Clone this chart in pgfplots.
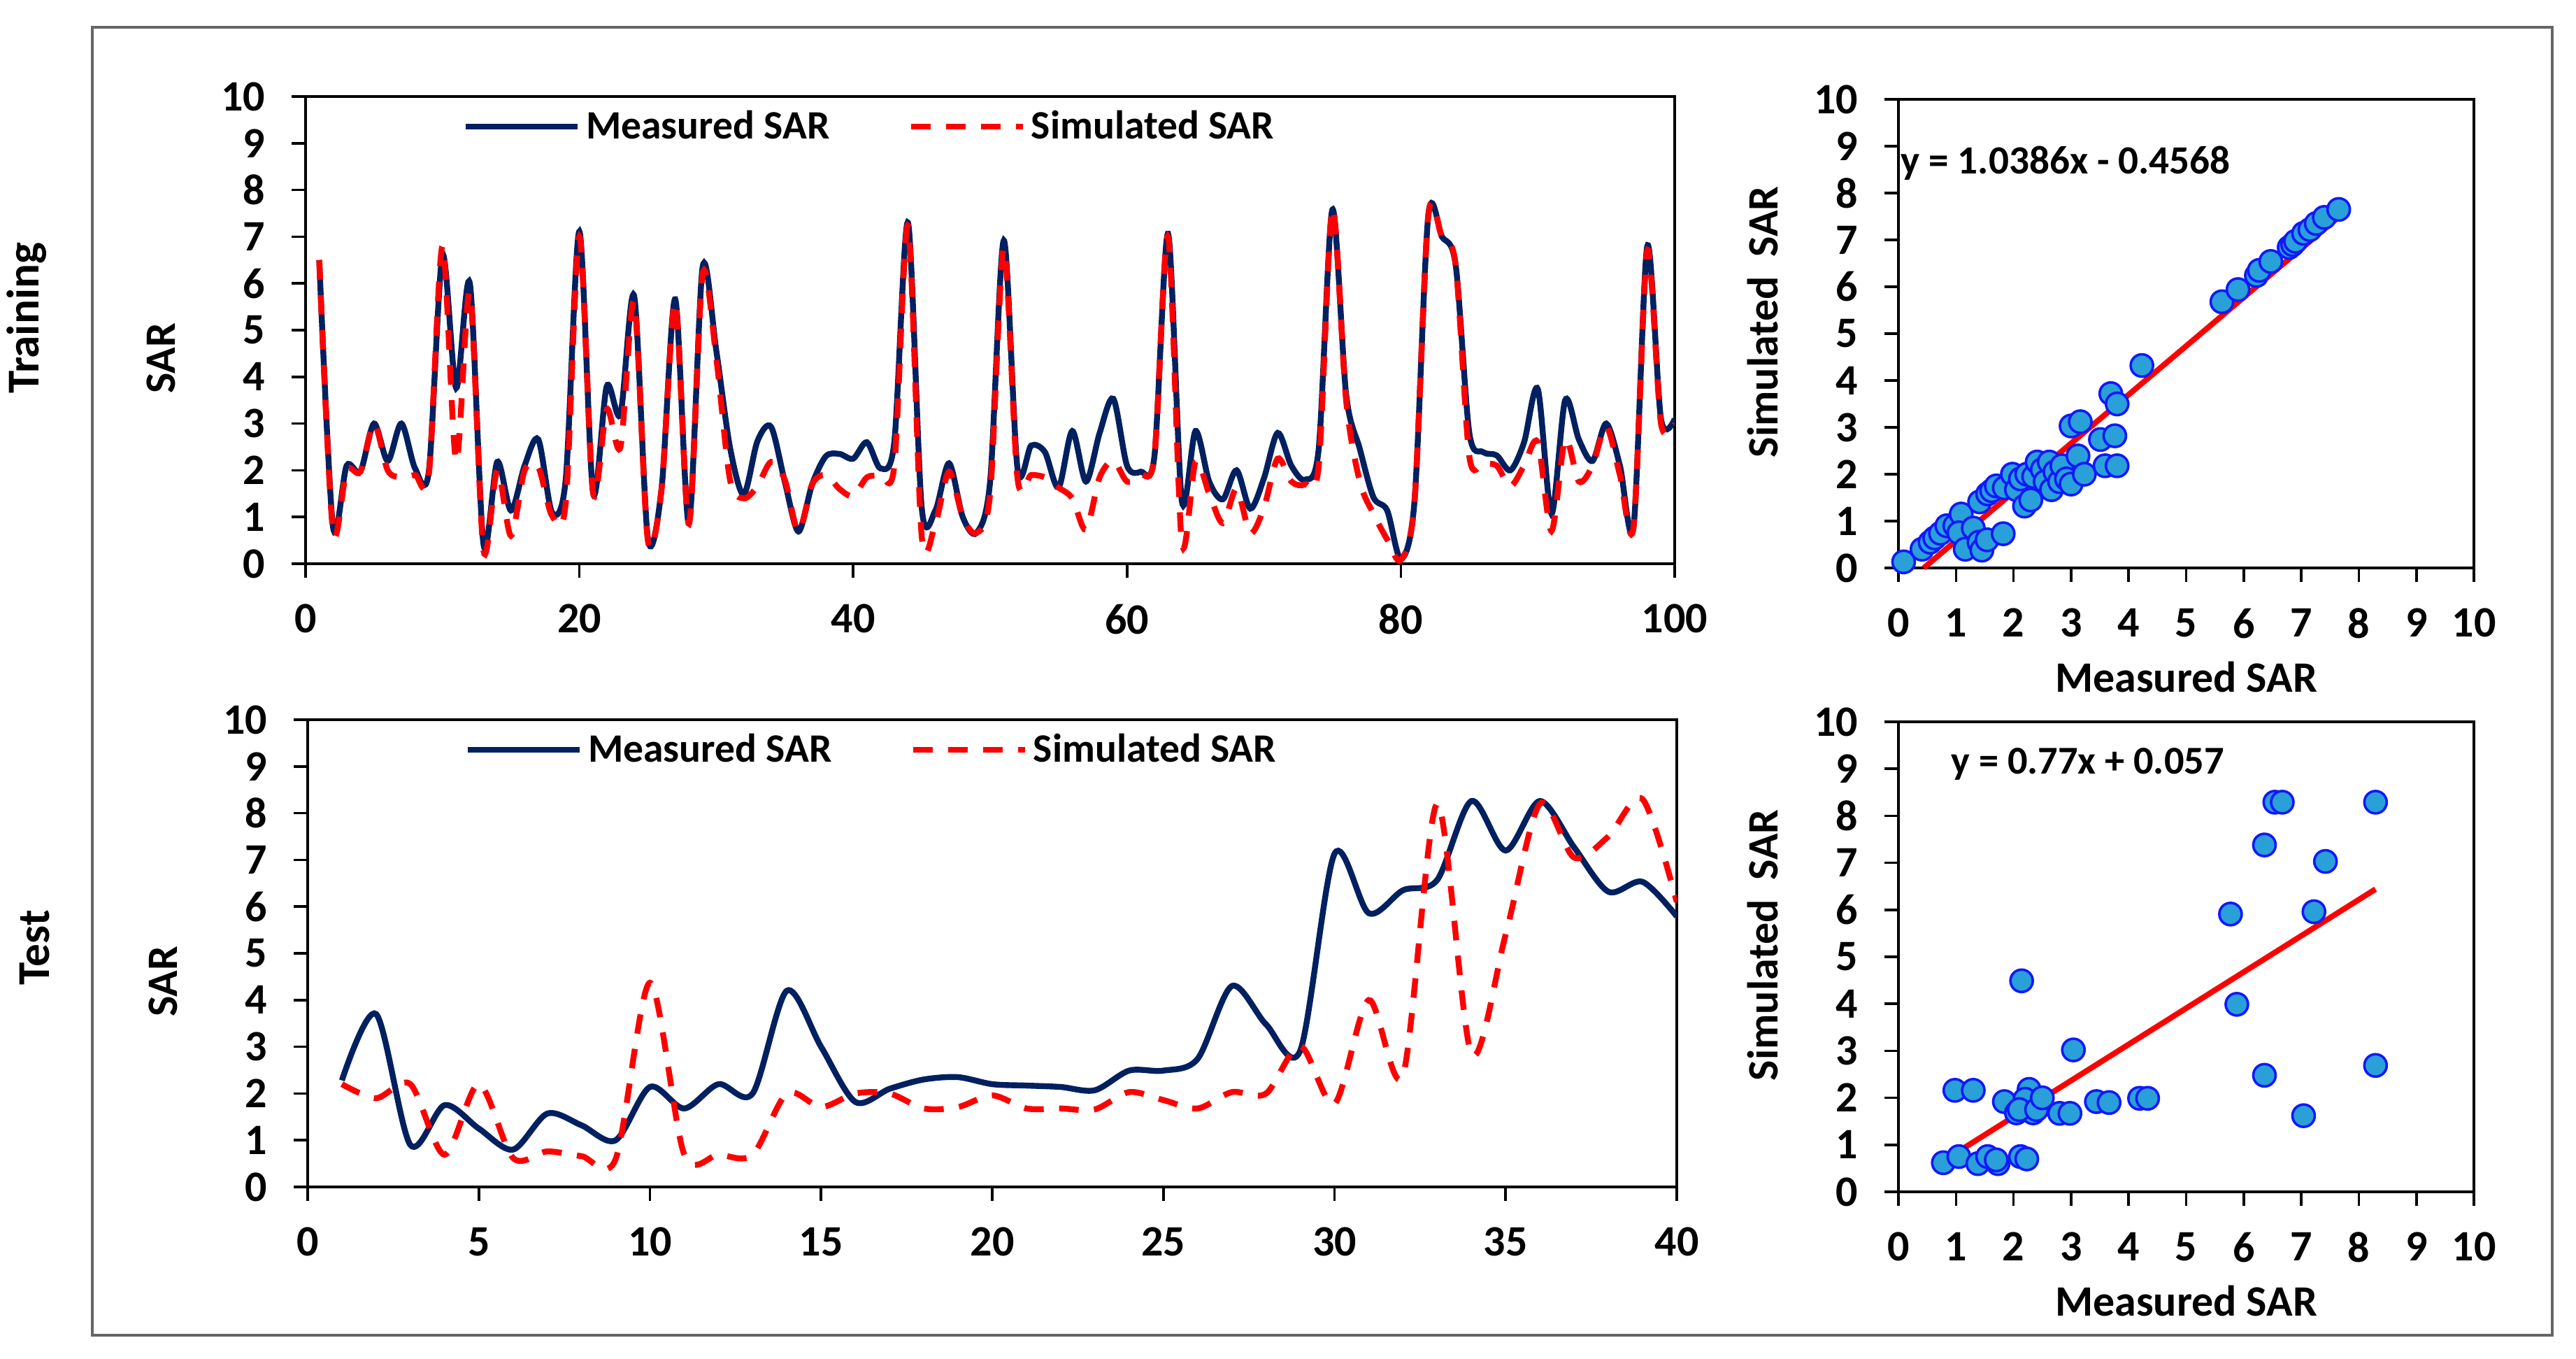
\documentclass[border=0pt]{standalone}
\usepackage{pgfplots}
\pgfplotsset{compat=1.18}
\usepackage{fontspec}
\setmainfont{Carlito}
\definecolor{navy}{RGB}{0,32,96}
\definecolor{mfill}{RGB}{42,160,216}
\definecolor{medge}{RGB}{16,24,255}
\pgfplotstableread{
x y
1 6.5
2 0.8
3 2.1
4 1.97
5 3.0
6 2.2
7 3.0
8 2.04
9 1.97
10 6.6
11 3.76
12 6.0
13 0.41
14 2.18
15 1.14
16 2.1
17 2.66
18 1.1
19 1.8
20 7.11
21 1.52
22 3.8
23 3.2
24 5.73
25 0.55
26 1.6
27 5.66
28 0.86
29 6.35
30 4.56
31 2.49
32 1.48
33 2.62
34 2.93
35 1.76
36 0.69
37 1.7
38 2.3
39 2.35
40 2.25
41 2.6
42 2.04
43 2.6
44 7.3
45 1.21
46 1.14
47 2.15
48 1.0
49 0.66
50 1.76
51 6.92
52 2.04
53 2.53
54 2.39
55 1.63
56 2.84
57 1.76
58 2.8
59 3.53
60 2.1
61 1.97
62 2.3
63 7.06
64 1.35
65 2.84
66 1.76
67 1.38
68 2.0
69 1.18
70 1.83
71 2.8
72 2.1
73 1.8
74 2.46
75 7.58
76 3.63
77 2.46
78 1.42
79 1.14
80 0.1
81 1.35
82 7.44
83 7.0
84 6.4
85 2.8
86 2.39
87 2.32
88 2.0
89 2.6
90 3.74
91 1.07
92 3.5
93 2.66
94 2.2
95 3.0
96 2.1
97 0.8
98 6.8
99 3.1
100 3.1
}\trainmeas
\pgfplotstableread{
x y
1 6.5
2 0.7
3 2.0
4 1.97
5 3.0
6 2.0
7 1.85
8 1.9
9 1.9
10 6.8
11 2.2
12 5.8
13 0.28
14 2.0
15 0.6
16 2.0
17 2.07
18 1.03
19 1.3
20 7.0
21 1.52
22 3.3
23 2.5
24 5.6
25 0.5
26 1.6
27 5.6
28 0.86
29 6.2
30 4.4
31 1.8
32 1.4
33 1.66
34 2.18
35 1.8
36 0.69
37 1.7
38 1.9
39 1.6
40 1.45
41 1.85
42 1.9
43 2.1
44 7.23
45 0.6
46 0.86
47 1.97
48 1.0
49 0.66
50 1.5
51 6.75
52 1.83
53 1.9
54 1.85
55 1.63
56 1.4
57 0.73
58 1.85
59 2.2
60 1.76
61 1.9
62 2.3
63 7.0
64 0.45
65 2.18
66 1.5
67 0.87
68 1.6
69 0.66
70 1.2
71 2.25
72 1.76
73 1.7
74 2.1
75 7.6
76 3.5
77 1.76
78 1.07
79 0.52
80 0.08
81 1.35
82 7.44
83 7.0
84 6.4
85 2.3
86 2.15
87 2.1
88 1.66
89 2.1
90 2.6
91 0.7
92 2.66
93 1.76
94 2.1
95 2.94
96 1.9
97 0.8
98 6.7
99 3.0
100 3.0
}\trainsim
\pgfplotstableread{
x y
1 2.28
2 3.7
3 0.9
4 1.75
5 1.25
6 0.8
7 1.57
8 1.32
9 1.0
10 2.14
11 1.68
12 2.2
13 2.0
14 4.2
15 3.0
16 1.82
17 2.1
18 2.3
19 2.35
20 2.2
21 2.17
22 2.14
23 2.07
24 2.49
25 2.49
26 2.74
27 4.3
28 3.48
29 2.92
30 7.13
31 5.86
32 6.35
33 6.57
34 8.26
35 7.2
36 8.26
37 7.27
38 6.32
39 6.53
40 5.79
}\testmeas
\pgfplotstableread{
x y
1 2.2
2 1.9
3 2.2
4 0.69
5 2.2
6 0.62
7 0.76
8 0.66
9 0.6
10 4.37
11 0.7
12 0.69
13 0.69
14 2.0
15 1.71
16 2.0
17 2.0
18 1.68
19 1.71
20 1.96
21 1.68
22 1.68
23 1.66
24 2.03
25 1.86
26 1.68
27 2.03
28 2.0
29 3.02
30 1.78
31 4.0
32 2.39
33 8.2
34 2.85
35 5.4
36 8.2
37 7.05
38 7.5
39 8.3
40 6.1
}\testsim
\pgfplotstableread{
x y
0.09 0.13
0.41 0.40
0.55 0.55
0.63 0.64
0.73 0.74
0.84 0.90
0.98 0.90
1.09 1.15
1.05 0.75
1.16 0.40
1.30 0.85
1.40 0.55
1.45 0.38
1.54 0.60
1.82 0.73
1.41 1.41
1.55 1.58
1.62 1.65
1.70 1.75
1.84 1.71
1.98 2.00
2.05 1.67
2.12 1.90
2.19 1.32
2.30 1.45
2.23 2.00
2.35 1.95
2.41 2.26
2.50 2.10
2.55 1.84
2.66 1.67
2.62 2.26
2.72 2.05
2.80 1.84
2.84 2.18
2.92 1.90
3.00 1.79
3.12 2.39
3.23 2.00
3.00 3.03
3.16 3.12
3.51 2.74
3.76 2.82
3.59 2.18
3.80 2.18
3.69 3.72
3.80 3.50
4.23 4.32
5.62 5.68
5.90 5.94
6.22 6.24
6.27 6.35
6.47 6.54
6.79 6.84
6.85 6.90
6.90 6.97
7.04 7.14
7.15 7.22
7.26 7.35
7.40 7.48
7.65 7.65
}\trainsc
\pgfplotstableread{
x y
0.78 0.62
1.05 0.75
0.98 2.16
1.30 2.16
1.38 0.60
1.55 0.75
1.73 0.60
1.70 0.68
1.84 1.92
2.05 1.68
2.12 0.75
2.23 0.70
2.14 4.49
2.27 2.18
2.20 1.97
2.34 1.68
2.48 1.84
2.80 1.67
2.98 1.67
3.04 3.02
3.44 1.92
3.66 1.90
4.19 1.99
4.33 1.99
5.77 5.91
5.88 3.99
6.36 7.38
6.36 2.48
6.54 8.29
6.67 8.29
7.04 1.62
7.22 5.96
7.42 7.03
8.29 8.29
8.29 2.69
2.10 1.75
2.40 1.75
2.50 2.00
}\testsc
\pgfplotsset{
  base/.style={scale only axis, anchor=south west,
    ymin=0, ymax=10, ytick={0,1,...,10},
    axis line style={line width=0.9pt},
    tick style={line width=0.9pt, black},
    tick align=outside, major tick length=5pt,
    xtick pos=left, ytick pos=left,
    /pgf/number format/assume math mode=true,
    tick label style={font=\bfseries\fontsize{15.5}{18}\selectfont},
    label style={font=\bfseries\fontsize{15.5}{18}\selectfont},
    yticklabel style={xshift=-6pt},
    xticklabel style={yshift=-6pt}},
  ts/.style={base, width=489.5pt, height=167pt,
    ylabel={SAR},
    ylabel style={at={(axis description cs:-0.1057,0.44)}, anchor=center, rotate=0},
    legend columns=2,
    legend image code/.code={\draw[##1] (0pt,0pt) -- (40pt,0pt);},
    legend style={draw=none, fill=none, inner sep=0pt,
      at={(axis description cs:0.1144,0.9356)}, anchor=west,
      font=\bfseries\fontsize{14.4}{17}\selectfont,
      /tikz/every even column/.append style={column sep=26pt}}},
  sc/.style={base, width=205.75pt, height=168pt, clip=false,
    xmin=0, xmax=10, xtick={0,1,...,10},
    xlabel={Measured SAR},
    xlabel style={at={(axis description cs:0.5,0)}, anchor=center, yshift=-39pt},
    ylabel={Simulated\ \ SAR},
    ylabel style={at={(axis description cs:-0.2357,0.525)}, anchor=center, rotate=0}},
  meas/.style={navy, line width=2.1pt, smooth, tension=0.5},
  simu/.style={red, line width=2.1pt, smooth, tension=0.5, dash pattern=on 7pt off 5.5pt},
  pts/.style={only marks, mark=*, mark size=4pt,
    mark options={fill=mfill, draw=medge, line width=0.9pt}},
}
\begin{document}
\begin{tikzpicture}
\useasboundingbox (0,0) rectangle (921pt,485.5pt);
\draw[black!60, line width=1pt] (33pt,8.25pt) rectangle (912.5pt,475.75pt);
\node[rotate=90, font=\bfseries\fontsize{16.3}{19}\selectfont] at (9.5pt,371.75pt) {Training};
\node[rotate=90, font=\bfseries\fontsize{16.3}{19}\selectfont] at (12.5pt,146.75pt) {Test};

% training time series
\begin{axis}[ts, at={(109.25pt,284pt)}, xmin=0, xmax=100, xtick={0,20,...,100}]
\addplot[meas] table[x=x,y=y] {\trainmeas};
\addplot[simu] table[x=x,y=y] {\trainsim};
\legend{Measured SAR, Simulated SAR}
\end{axis}

% test time series
\begin{axis}[ts, at={(110pt,61.25pt)}, xmin=0, xmax=40, xtick={0,5,...,40}]
\addplot[meas] table[x=x,y=y] {\testmeas};
\addplot[simu] table[x=x,y=y] {\testsim};
\legend{Measured SAR, Simulated SAR}
\end{axis}

% training scatter
\begin{axis}[sc, at={(678.75pt,282.5pt)}, height=167.5pt]
\addplot[pts] table[x=x,y=y] {\trainsc};
\addplot[red, line width=2pt] coordinates {(0.44,0) (7.65,7.4885)};
\node[anchor=west, inner sep=0pt, font=\bfseries\fontsize{14.3}{17}\selectfont] at (axis cs:0.03,8.64) {y = 1.0386x - 0.4568};
\end{axis}

% test scatter
\begin{axis}[sc, at={(678.75pt,59.5pt)}]
\addplot[pts] table[x=x,y=y] {\testsc};
\addplot[red, line width=2pt] coordinates {(0.78,0.6576) (8.29,6.4403)};
\node[anchor=west, inner sep=0pt, font=\bfseries\fontsize{14.1}{17}\selectfont] at (axis cs:0.91,9.1) {y = 0.77x + 0.057};
\end{axis}
\end{tikzpicture}
\end{document}
